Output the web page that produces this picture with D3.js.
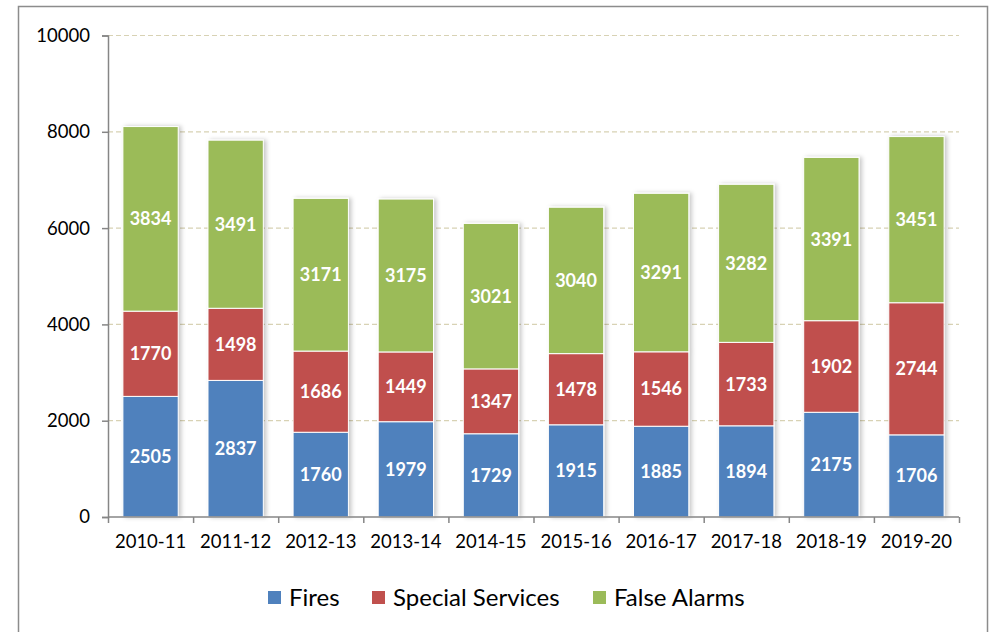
<!DOCTYPE html>
<html><head><meta charset="utf-8">
<script src="https://cdn.jsdelivr.net/npm/d3@7"></script>
<style>body{margin:0;background:#fff;} svg{display:block;}</style>
</head><body>
<svg id="chart" width="995" height="632"></svg>
<script>
const categories = ["2010-11","2011-12","2012-13","2013-14","2014-15","2015-16","2016-17","2017-18","2018-19","2019-20"];
const fires = [2505,2837,1760,1979,1729,1915,1885,1894,2175,1706];
const specialServices = [1770,1498,1686,1449,1347,1478,1546,1733,1902,2744];
const falseAlarms = [3834,3491,3171,3175,3021,3040,3291,3282,3391,3451];
const seriesNames = ["Fires","Special Services","False Alarms"];
const seriesColors = ["#4f81bd","#c0504d","#9bbb59"];
const yTicks = [0,2000,4000,6000,8000,10000];

const svg = d3.select("#chart");
const font = "Lato, 'Open Sans', sans-serif";
const L = 108, R = 959, T = 35.5, B = 517;

svg.append("rect").attr("x",18.5).attr("y",6.5).attr("width",969).attr("height",640)
  .attr("fill","#fff").attr("stroke","#8c8c8c").attr("stroke-width",1.5);

const defs = svg.append("defs");
const f = defs.append("filter").attr("id","sh").attr("x","-20%").attr("y","-5%").attr("width","150%").attr("height","110%");
f.append("feDropShadow").attr("dx",2.5).attr("dy",0).attr("stdDeviation",2).attr("flood-color","#000").attr("flood-opacity",0.22);

const x = d3.scaleBand().domain(categories).range([L,R]).paddingInner(0.35).paddingOuter(0.175);
const xi = d3.scaleLinear().domain([0,categories.length]).range([L,R]);
const y = d3.scaleLinear().domain([0,10000]).range([B,T]);

// gridlines
svg.append("g").selectAll("line").data(yTicks.filter(d=>d>0)).join("line")
  .attr("x1",L).attr("x2",R).attr("y1",d=>y(d)).attr("y2",d=>y(d))
  .attr("stroke","#d8d2b4").attr("stroke-width",1.2).attr("stroke-dasharray","5,3");

const data = categories.map((c,i)=>({cat:c, v:[fires[i],specialServices[i],falseAlarms[i]]}));
const keys = [0,1,2];
const stack = d3.stack().keys(keys).value((d,k)=>d.v[k]);
const stacked = stack(data);

const bars = svg.append("g").attr("filter","url(#sh)");
stacked.forEach((layer,k)=>{
  bars.append("g").selectAll("rect").data(layer).join("rect")
    .attr("x",d=>x(d.data.cat)).attr("width",x.bandwidth())
    .attr("y",d=>y(d[1])).attr("height",d=>y(d[0])-y(d[1]))
    .attr("fill",seriesColors[k]).attr("stroke","#fff").attr("stroke-width",1);
});
stacked.forEach((layer,k)=>{
  svg.append("g").selectAll("text").data(layer).join("text")
    .attr("x",d=>x(d.data.cat)+x.bandwidth()/2)
    .attr("y",d=>(y(d[0])+y(d[1]))/2)
    .attr("dy","0.36em").attr("text-anchor","middle")
    .attr("fill","#fff").attr("font-family",font).attr("font-weight","bold").attr("font-size",18)
    .text(d=>d.data.v[k]);
});

// y axis
const ya = svg.append("g").attr("transform",`translate(${L},0)`)
  .call(d3.axisLeft(y).tickValues(yTicks).tickSize(6).tickPadding(12).tickFormat(d3.format("d")));
ya.select(".domain").attr("stroke","#868686").attr("stroke-width",1.5);
ya.selectAll(".tick line").attr("stroke","#868686").attr("stroke-width",1.5);
ya.selectAll("text").attr("font-family",font).attr("font-size",18.5).attr("fill","#000");

// x axis boundary ticks
const xa = svg.append("g").attr("transform",`translate(0,${B})`)
  .call(d3.axisBottom(xi).tickValues(d3.range(categories.length+1)).tickSize(6).tickFormat(""));
xa.select(".domain").attr("stroke","#868686").attr("stroke-width",1.5).attr("d",`M${L},0H${R}`);
xa.selectAll(".tick line").attr("stroke","#868686").attr("stroke-width",1.5);

// x labels
const xl = svg.append("g").attr("transform",`translate(0,${B})`)
  .call(d3.axisBottom(x).tickSize(0).tickPadding(18));
xl.select(".domain").remove();
xl.selectAll("text").attr("font-family",font).attr("font-size",18.5).attr("fill","#000");

// legend
const legendX = [268,372,593];
const lg = svg.append("g");
seriesNames.forEach((n,i)=>{
  lg.append("rect").attr("x",legendX[i]).attr("y",591).attr("width",13).attr("height",13).attr("fill",seriesColors[i]);
  lg.append("text").attr("x",legendX[i]+21).attr("y",597).attr("dy","0.36em")
    .attr("font-family",font).attr("font-size",24).attr("fill","#000").text(n);
});
</script>
</body></html>
